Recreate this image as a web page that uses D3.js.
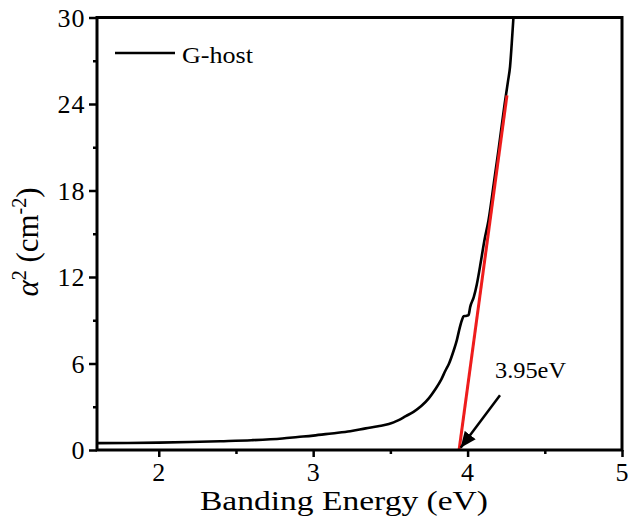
<!DOCTYPE html>
<html>
<head>
<meta charset="utf-8">
<script src="https://cdn.jsdelivr.net/npm/d3@7"></script>
</head>
<body style="margin:0;padding:0;background:#fff">
<svg id="chart" width="628" height="526" style="display:block"></svg>
<script>
// ---- data ----
const energy = [1.6, 1.8, 2.0, 2.2, 2.4, 2.6, 2.8, 2.9, 3.0, 3.12, 3.24, 3.34, 3.42, 3.49, 3.55, 3.6, 3.65, 3.7, 3.75, 3.79, 3.83, 3.856, 3.88, 3.91, 3.93, 3.945, 3.963, 3.974, 3.99, 4.006, 4.017, 4.04, 4.06, 4.088, 4.11, 4.135, 4.17, 4.2, 4.24, 4.262, 4.275, 4.286, 4.297];
const alpha2 = [0.48, 0.49, 0.51, 0.55, 0.61, 0.68, 0.8, 0.9, 1.0, 1.15, 1.3, 1.5, 1.65, 1.8, 2.05, 2.35, 2.65, 3.05, 3.6, 4.2, 4.9, 5.5, 6.0, 6.9, 7.6, 8.3, 9.0, 9.28, 9.3, 9.35, 9.93, 10.6, 11.5, 13.2, 14.6, 15.9, 18.5, 20.8, 24.0, 25.6, 26.6, 28.2, 30.0];
const fitX = [3.945, 4.255];
const fitY = [0, 24.6];
const arrowX = [4.21, 3.955];
const arrowY = [3.8, 0.15];
const xTicks = [2, 3, 4, 5];
const xMinor = [2.5, 3.5, 4.5];
const yTicks = [0, 6, 12, 18, 24, 30];
const yMinor = [3, 9, 15, 21, 27];
const seriesName = "G-host";
const gapLabel = "3.95eV";
const xTitle = "Banding Energy (eV)";

const FONT = "'Liberation Serif', 'Times New Roman', serif";

// ---- layout ----
const svg = d3.select("#chart").style("font-family", FONT);
const L = 97, R = 622, T = 17.5, B = 450;
const x = d3.scaleLinear().domain([1.6, 5]).range([L, R]);
const y = d3.scaleLinear().domain([0, 30]).range([B, T]);

// minor ticks
svg.append("g").attr("transform", `translate(0,${B})`)
  .call(d3.axisBottom(x).tickValues(xMinor).tickSize(4).tickFormat(""))
  .call(g => g.select(".domain").remove())
  .call(g => g.selectAll("line").attr("stroke", "#000").attr("stroke-width", 2.5));
svg.append("g").attr("transform", `translate(${L},0)`)
  .call(d3.axisLeft(y).tickValues(yMinor).tickSize(4).tickFormat(""))
  .call(g => g.select(".domain").remove())
  .call(g => g.selectAll("line").attr("stroke", "#000").attr("stroke-width", 2.5));

// major ticks
svg.append("g").attr("transform", `translate(0,${B})`)
  .call(d3.axisBottom(x).tickValues(xTicks).tickSize(7).tickFormat(d3.format("d")))
  .call(g => g.attr("font-family", null).attr("font-size", null))
  .call(g => g.select(".domain").remove())
  .call(g => g.selectAll("line").attr("stroke", "#000").attr("stroke-width", 2.5))
  .call(g => g.selectAll("text")
    .attr("y", 31).attr("dy", null)
    .style("font-family", FONT).style("font-size", "26px")
    .style("letter-spacing", "1px")
    .attr("fill", "#000"));
svg.append("g").attr("transform", `translate(${L},0)`)
  .call(d3.axisLeft(y).tickValues(yTicks).tickSize(8).tickFormat(d3.format("d")))
  .call(g => g.attr("font-family", null).attr("font-size", null))
  .call(g => g.select(".domain").remove())
  .call(g => g.selectAll("line").attr("stroke", "#000").attr("stroke-width", 2.5))
  .call(g => g.selectAll("text")
    .attr("x", -11.5).attr("dy", "0.33em")
    .style("font-family", FONT).style("font-size", "26px")
    .style("letter-spacing", "1px")
    .attr("fill", "#000"));

// data curve
const pts = energy.map((e, i) => [e, alpha2[i]]);
const line = d3.line().x(d => x(d[0])).y(d => y(d[1])).curve(d3.curveMonotoneX);
svg.append("path").datum(pts)
  .attr("d", line).attr("fill", "none")
  .attr("stroke", "#000").attr("stroke-width", 2.6).attr("stroke-linejoin", "round");

// linear fit
svg.append("line")
  .attr("x1", x(fitX[0])).attr("y1", y(fitY[0]))
  .attr("x2", x(fitX[1])).attr("y2", y(fitY[1]))
  .attr("stroke", "#ee1c1c").attr("stroke-width", 3);

// frame
svg.append("rect").attr("x", L).attr("y", T).attr("width", R - L).attr("height", B - T)
  .attr("fill", "none").attr("stroke", "#000").attr("stroke-width", 3);

// arrow
const defs = svg.append("defs");
defs.append("marker").attr("id", "ah")
  .attr("markerUnits", "userSpaceOnUse")
  .attr("viewBox", "0 0 14 12").attr("refX", 14).attr("refY", 6)
  .attr("markerWidth", 16).attr("markerHeight", 14).attr("orient", "auto")
  .append("path").attr("d", "M0,0 L14,6 L0,12 Z").attr("fill", "#000");
svg.append("line")
  .attr("x1", x(arrowX[0])).attr("y1", y(arrowY[0]))
  .attr("x2", x(arrowX[1])).attr("y2", y(arrowY[1]))
  .attr("stroke", "#000").attr("stroke-width", 2.5)
  .attr("marker-end", "url(#ah)");

svg.append("text")
  .style("font-family", FONT).style("font-size", "23px")
  .attr("x", x(4.21) - 5).attr("y", 378)
  .attr("textLength", 71).attr("lengthAdjust", "spacingAndGlyphs")
  .text(gapLabel);

// legend
svg.append("line").attr("x1", 115).attr("x2", 175).attr("y1", 53).attr("y2", 53)
  .attr("stroke", "#000").attr("stroke-width", 2.6);
svg.append("text")
  .style("font-family", FONT).style("font-size", "23px")
  .attr("x", 182).attr("y", 63)
  .attr("textLength", 71).attr("lengthAdjust", "spacingAndGlyphs")
  .text(seriesName);

// axis titles
svg.append("text")
  .style("font-family", FONT).style("font-size", "27px")
  .attr("x", 200).attr("y", 510)
  .attr("textLength", 288).attr("lengthAdjust", "spacingAndGlyphs")
  .text(xTitle);

const yl = svg.append("text")
  .style("font-family", FONT).style("font-size", "31px")
  .attr("transform", "translate(38,242) rotate(-90)")
  .attr("text-anchor", "middle");
yl.append("tspan").style("font-style", "italic").text("α");
yl.append("tspan").style("font-size", "20px").attr("dy", -12).text("2");
yl.append("tspan").attr("dy", 12).text(" (cm");
yl.append("tspan").style("font-size", "20px").attr("dy", -12).text("-2");
yl.append("tspan").attr("dy", 12).text(")");
</script>
</body>
</html>
